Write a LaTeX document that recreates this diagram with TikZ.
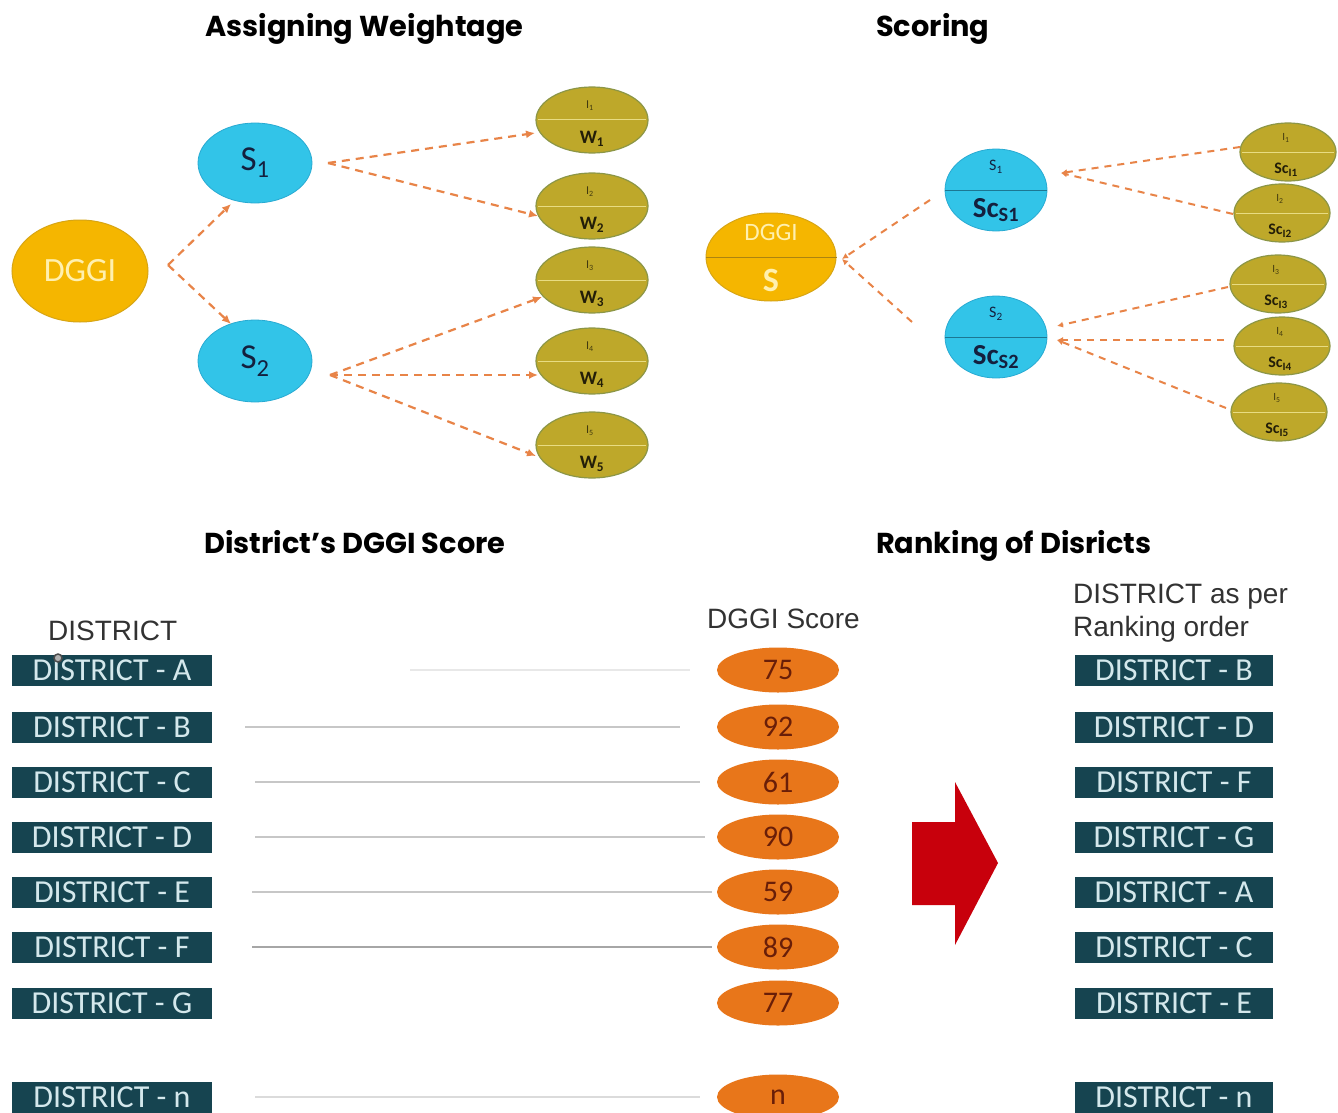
\documentclass[tikz,border=0pt]{standalone}
\usepackage{fontspec}
\setmainfont{Liberation Sans}
\newfontfamily\poppins{Poppins}
\newfontfamily\carl{Carlito}
\usetikzlibrary{shapes.geometric,arrows.meta}
\definecolor{cGold}{RGB}{245,182,0}
\definecolor{cGoldB}{RGB}{215,165,20}
\definecolor{cLightY}{RGB}{255,240,175}
\definecolor{cBlue}{RGB}{50,196,232}
\definecolor{cBlueB}{RGB}{40,170,210}
\definecolor{cNavy}{RGB}{20,32,62}
\definecolor{cOlive}{RGB}{190,168,42}
\definecolor{cOliveB}{RGB}{140,150,70}
\definecolor{cOliveL}{RGB}{232,220,130}
\definecolor{cOliveT}{RGB}{35,30,8}
\definecolor{cDash}{RGB}{232,132,72}
\definecolor{cTeal}{RGB}{22,68,80}
\definecolor{cBoxTxt}{RGB}{212,232,236}
\definecolor{cOrange}{RGB}{232,118,26}
\definecolor{cBrown}{RGB}{105,30,8}
\definecolor{cRed}{RGB}{200,0,12}
\definecolor{cHead}{RGB}{50,50,50}
\begin{document}
\begin{tikzpicture}[x=1pt,y=-1pt,
  title/.style={font=\poppins\bfseries\fontsize{28.8}{32}\selectfont, anchor=base west, inner sep=0},
  goldnode/.style={ellipse, fill=cGold, draw=cGoldB, line width=1pt, inner sep=0},
  bluenode/.style={ellipse, fill=cBlue, draw=cBlueB, line width=0.8pt, inner sep=0},
  olivenode/.style={ellipse, fill=cOlive, draw=cOliveB, line width=1.2pt, inner sep=0},
  olivetop/.style={font=\carl\fontsize{12}{12}\selectfont, text=cOliveT!80!cOlive, inner sep=0},
  olivebot/.style={font=\carl\bfseries\fontsize{19}{19}\selectfont, text=cOliveT, inner sep=0},
  scotop/.style={font=\carl\fontsize{11}{11}\selectfont, text=cOliveT!80!cOlive, inner sep=0},
  scobot/.style={font=\carl\bfseries\fontsize{16}{16}\selectfont, text=cOliveT, inner sep=0},
  darr/.style={draw=cDash, line width=2.2pt, dash pattern=on 8pt off 6pt, -{Latex[length=9pt,width=8pt]}},
  darrs/.style={draw=cDash, line width=2pt, dash pattern=on 7pt off 6pt, -{Latex[length=6pt,width=6pt]}},
  dbox/.style={rectangle, fill=cTeal, minimum height=31, inner sep=0, text=cBoxTxt, font=\carl\fontsize{32}{32}\selectfont},
  onum/.style={ellipse, fill=cOrange, minimum width=122, minimum height=45, inner sep=0, text=cBrown, font=\carl\fontsize{30}{30}\selectfont},
  head/.style={font=\fontsize{28}{33}\selectfont, text=cHead, inner sep=0, anchor=base west},
  gline/.style={draw=black!22, line width=1.2pt}
]
\useasboundingbox[fill=white] (0,0) rectangle (1338,1113);

% ---------- titles
\node[title] (t1) at (205,37) {Assigning Weightage};
\node[title] (t2) at (876,37) {Scoring};
\node[title] (t3) at (204,553) {District’s DGGI Score};
\node[title] (t4) at (876,553) {Ranking of Disricts};

% ---------- Assigning weightage
\node[goldnode, minimum width=136, minimum height=102, text=cLightY,
      font=\carl\fontsize{34}{34}\selectfont] (dggi) at (80,271) {DGGI};
\node[bluenode, minimum width=114, minimum height=80, text=cNavy,
      font=\carl\fontsize{35}{35}\selectfont] (s1) at (255,163) {S\textsubscript{1}};
\node[bluenode, minimum width=114, minimum height=82, text=cNavy,
      font=\carl\fontsize{35}{35}\selectfont] (s2) at (255,361) {S\textsubscript{2}};

\foreach \i/\yc in {1/120,2/206,3/280,4/361,5/445}{
  \node[olivenode, minimum width=112, minimum height=66] (w\i) at (592,\yc) {};
  \draw[cOliveL, line width=1pt] ([xshift=3pt]w\i.west) -- ([xshift=-3pt]w\i.east);
  \node[olivetop] (wi\i) at (590,\yc-14) {I\textsubscript{\i}};
  \node[olivebot] (wl\i) at (592,\yc+19) {W\textsubscript{\i}};
}

\coordinate (dggiout) at (168,265);
\coordinate (s1in) at (231,204);
\coordinate (s2in) at (231,324);
\coordinate (s1out) at (328,163);
\coordinate (s2out) at (330,375);
\coordinate (w1in) at (535,133);
\coordinate (w2in) at (538,216);
\coordinate (w3in) at (542,297);
\coordinate (w4in) at (538,375);
\coordinate (w5in) at (536,456);
\draw[darr] (dggiout) -- (s1in);
\draw[darr] (dggiout) -- (s2in);
\draw[darr] (s1out) -- (w1in);
\draw[darr] (s1out) -- (w2in);
\draw[darr] (s2out) -- (w3in);
\draw[darr] (s2out) -- (w4in);
\draw[darr] (s2out) -- (w5in);

% ---------- Scoring
\node[goldnode, minimum width=130, minimum height=88] (dg) at (771,257) {};
\draw[cGoldB!80!black, line width=0.8pt] (dg.west) -- (dg.east);
\node[text=cLightY, font=\carl\fontsize{25}{25}\selectfont, inner sep=0] (dgt) at (771,232) {DGGI};
\node[text=cLightY, font=\carl\bfseries\fontsize{34}{34}\selectfont, inner sep=0] (dgs) at (771,280) {S};

\node[bluenode, minimum width=102, minimum height=82] (ss1) at (996,190) {};
\draw[cBlueB!70!black, line width=0.8pt] (ss1.west) -- (ss1.east);
\node[text=cNavy, font=\carl\fontsize{16}{16}\selectfont, inner sep=0] (ss1t) at (996,167) {S\textsubscript{1}};
\node[text=cNavy, font=\carl\bfseries\fontsize{29}{29}\selectfont, inner sep=0] (ss1b) at (996,210) {Sc\textsubscript{S1}};

\node[bluenode, minimum width=102, minimum height=82] (ss2) at (996,337) {};
\draw[cBlueB!70!black, line width=0.8pt] (ss2.west) -- (ss2.east);
\node[text=cNavy, font=\carl\fontsize{16}{16}\selectfont, inner sep=0] (ss2t) at (996,314) {S\textsubscript{2}};
\node[text=cNavy, font=\carl\bfseries\fontsize{29}{29}\selectfont, inner sep=0] (ss2b) at (996,357) {Sc\textsubscript{S2}};

\foreach \i/\xc/\yc in {1/1288/152,2/1282/213,3/1278/284,4/1282/346,5/1279/412}{
  \node[olivenode, minimum width=96, minimum height=58] (sc\i) at (\xc,\yc) {};
  \draw[cOliveL, line width=1pt] ([xshift=3pt]sc\i.west) -- ([xshift=-3pt]sc\i.east);
  \node[scotop] (sci\i) at (\xc-2,\yc-14) {I\textsubscript{\i}};
  \node[scobot] (scl\i) at (\xc-2,\yc+18) {Sc\textsubscript{I\i}};
}

\coordinate (dgin) at (842,259);
\coordinate (ss1a) at (930,200);
\coordinate (ss2a) at (912,322);
\coordinate (ss1in) at (1061,173);
\coordinate (ss2in) at (1057,326);
\coordinate (ss2in2) at (1057,340);
\coordinate (sc1o) at (1240,147);
\coordinate (sc2o) at (1233,214);
\coordinate (sc3o) at (1228,287);
\coordinate (sc4o) at (1224,340);
\coordinate (sc5o) at (1226,408);
\draw[darrs] (ss1a) -- (dgin);
\draw[darrs] (ss2a) -- (dgin);
\draw[darrs] (sc1o) -- (ss1in);
\draw[darrs] (sc2o) -- (ss1in);
\draw[darrs] (sc3o) -- (ss2in);
\draw[darrs] (sc4o) -- (ss2in2);
\draw[darrs] (sc5o) -- (ss2in2);

% ---------- District's DGGI Score
\node[head] (hd) at (48,640) {DISTRICT};
\node[head] (hs) at (707,628) {DGGI Score};
\node[head] (hr1) at (1073,603) {DISTRICT as per};
\node[head] (hr2) at (1073,636) {Ranking order};

\foreach \n/\l/\v/\yc in {a/A/75/670, b/B/92/727, c/C/61/782, d/D/90/837, e/E/59/892, f/F/89/947, g/G/77/1003, n/n/n/1097}{
  \node[dbox, minimum width=200] (L\n) at (112,\yc) {DISTRICT - \l};
  \node[onum] (N\n) at (778,\yc) {\v};
}
\draw[black!70, fill=black!30, line width=1.5pt] (58,658) circle (4);

\draw[draw=black!9, line width=1.2pt] ([xshift=198pt]La.east) -- ([xshift=-27pt]Na.west);
\draw[gline] ([xshift=33pt]Lb.east) -- ([xshift=-37pt]Nb.west);
\draw[gline] ([xshift=43pt]Lc.east) -- ([xshift=-17pt]Nc.west);
\draw[gline] ([xshift=43pt]Ld.east) -- ([xshift=-12pt]Nd.west);
\draw[gline] ([xshift=40pt]Le.east) -- ([xshift=-5pt]Ne.west);
\draw[gline, draw=black!35] ([xshift=40pt]Lf.east) -- ([xshift=-5pt]Nf.west);
\draw[gline, draw=black!14] ([xshift=43pt]Ln.east) -- ([xshift=-17pt]Nn.west);

% ---------- Ranking
\foreach \n/\l/\yc in {1/B/670, 2/D/727, 3/F/782, 4/G/837, 5/A/892, 6/C/947, 7/E/1003, 8/n/1097}{
  \node[dbox, minimum width=198] (R\n) at (1174,\yc) {DISTRICT - \l};
}

\fill[cRed] (912,822) -- (955,822) -- (955,782) -- (998,863) -- (955,945) -- (955,905) -- (912,905) -- cycle;
\end{tikzpicture}
\end{document}
